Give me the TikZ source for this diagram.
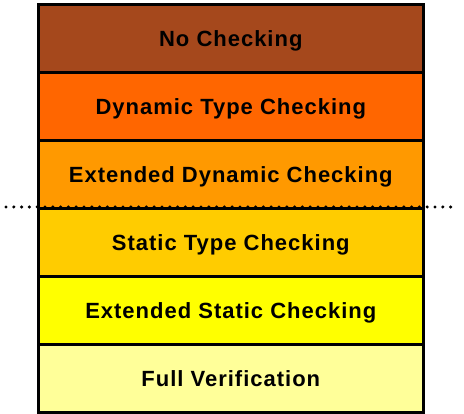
\documentclass[tikz,border=0pt]{standalone}
\usepackage{fontspec}
\setmainfont{Liberation Sans}[LetterSpace=4.5]
\definecolor{lvlA}{RGB}{165,72,28}
\definecolor{lvlB}{RGB}{255,102,0}
\definecolor{lvlC}{RGB}{255,153,0}
\definecolor{lvlD}{RGB}{255,204,0}
\definecolor{lvlE}{RGB}{255,255,0}
\definecolor{lvlF}{RGB}{255,255,153}
\begin{document}
\begin{tikzpicture}[x=1pt,y=-1pt,
  level/.style={draw=black, line width=2.6pt, minimum width=385pt, minimum height=68pt,
    inner sep=0pt, text height=18pt, text depth=2pt, anchor=north west,
    font=\bfseries\fontsize{22}{26}\selectfont},
  divider/.style={line width=3.4pt, line cap=round, dash pattern=on 0pt off 7.8pt}]
\useasboundingbox (0,0) rectangle (464,414);
\node[level, fill=lvlA] (l1) at (37,3)   {No Checking};
\node[level, fill=lvlB] (l2) at (37,71)  {Dynamic Type Checking};
\node[level, fill=lvlC] (l3) at (37,139) {Extended Dynamic Checking};
\node[level, fill=lvlD] (l4) at (37,207) {Static Type Checking};
\node[level, fill=lvlE] (l5) at (37,275) {Extended Static Checking};
\node[level, fill=lvlF] (l6) at (37,343) {Full Verification};
% boundary between dynamic and static checking
\coordinate (dl) at (6,207);
\coordinate (dr) at (458,207);
\draw[divider] (dl) -- (dr);
\end{tikzpicture}
\end{document}
